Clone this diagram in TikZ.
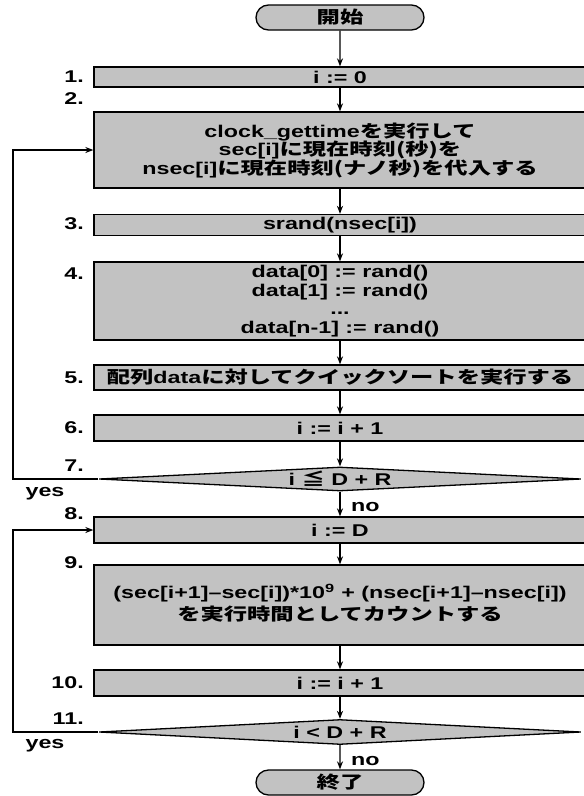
\documentclass[tikz,border=0pt]{standalone}
\usepackage{fontspec}
\usepackage{graphicx}
\setmainfont{Liberation Sans}
\newfontfamily\jp{Noto Sans CJK JP}
\usetikzlibrary{shapes.geometric,shapes.misc,arrows.meta}
\newcommand\T[1]{\scalebox{1.37}[1]{#1}}
\begin{document}
\begin{tikzpicture}[x=1pt,y=-1pt,
  font=\fontsize{17}{18.5}\selectfont\bfseries,
  box/.style={draw, fill=black!24, line width=1.3pt, minimum width=492pt, inner sep=0pt, align=center},
  term/.style={draw, fill=black!24, line width=1.3pt, rounded rectangle, minimum width=168pt, minimum height=25pt, inner sep=0pt},
  dec/.style={draw, fill=black!24, line width=1.3pt, diamond, aspect=20, minimum width=482pt, minimum height=24pt, inner sep=0pt},
  lab/.style={anchor=east, inner sep=0pt},
  side/.style={inner sep=0pt},
  flow/.style={line width=1.3pt, -{Stealth[length=8pt,width=6pt]}},
]
\useasboundingbox (0,0) rectangle (584,796);
\clip (0,0) rectangle (584,796);
\coordinate (L) at (13,0);
% nodes
\node[term] (start) at (340,17.5) {\T{\jp 開始}};
\node[box, minimum height=20pt] (b1) at (340,77) {\T{i := 0}};
\node[box, minimum height=76pt] (b2) at (340,150) {\T{clock\_gettime{\jp を実行して}}\\ \T{sec[i]{\jp に現在時刻(秒)を}}\\ \T{nsec[i]{\jp に現在時刻(ナノ秒)を代入する}}};
\node[box, minimum height=21pt] (b3) at (340,225) {\T{srand(nsec[i])}};
\node[box, minimum height=78pt] (b4) at (340,301) {\T{data[0] := rand()}\\ \T{data[1] := rand()}\\ \T{...}\\ \T{data[n-1] := rand()}};
\node[box, minimum height=25pt] (b5) at (340,377.5) {\T{{\jp 配列}data{\jp に対してクイックソートを実行する}}};
\node[box, minimum height=26pt] (b6) at (340,428) {\T{i := i + 1}};
\node[dec] (d7) at (340,479) {\T{i {\jp ≦} D + R}};
\node[box, minimum height=26pt] (b8) at (340,530) {\T{i := D}};
\node[box, minimum height=80pt] (b9) at (340,605) {\raisebox{-5pt}{\begin{tabular}{@{}c@{}}\T{(sec[i+1]–sec[i])*10\textsuperscript{9} + (nsec[i+1]–nsec[i])}\\[1pt] \T{\jp を実行時間としてカウントする}\end{tabular}}};
\node[box, minimum height=26pt] (b10) at (340,683) {\T{i := i + 1}};
\node[dec, minimum height=25pt] (d11) at (340,732) {\T{i < D + R}};
\node[term] (end) at (340,782.5) {\T{\jp 終了}};
% labels
\node[lab] (n1) at (84,77) {\T{1.}};
\node[lab] (n2) at (84,99) {\T{2.}};
\node[lab] (n3) at (84,224) {\T{3.}};
\node[lab] (n4) at (84,274) {\T{4.}};
\node[lab] (n5) at (84,378) {\T{5.}};
\node[lab] (n6) at (84,428) {\T{6.}};
\node[lab] (n7) at (84,466) {\T{7.}};
\node[lab] (n8) at (84,514) {\T{8.}};
\node[lab] (n9) at (84,563) {\T{9.}};
\node[lab] (n10) at (84,683) {\T{10.}};
\node[lab] (n11) at (84,719) {\T{11.}};
\node[side] (y1) at (45,494) {\T{yes}};
\node[side] (y2) at (45,746) {\T{yes}};
\node[side, anchor=west] (no1) at (351,507) {\T{no}};
\node[side, anchor=west] (no2) at (351,761) {\T{no}};
% connectors
\draw[flow] (start) -- (b1);
\draw[flow] (b1) -- (b2);
\draw[flow] (b2) -- (b3);
\draw[flow] (b3) -- (b4);
\draw[flow] (b4) -- (b5);
\draw[flow] (b5) -- (b6);
\draw[flow] (b6) -- (d7);
\draw[flow] (d7) -- (b8);
\draw[flow] (d7.west) -- (d7.west -| L) -- (L |- b2.west) -- (b2.west);
\draw[flow] (b8) -- (b9);
\draw[flow] (b9) -- (b10);
\draw[flow] (b10) -- (d11);
\draw[flow] (d11) -- (end);
\draw[flow] (d11.west) -- (d11.west -| L) -- (L |- b8.west) -- (b8.west);
\end{tikzpicture}
\end{document}
